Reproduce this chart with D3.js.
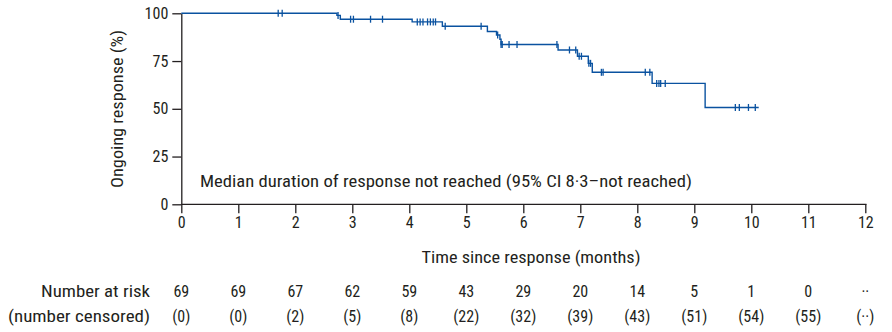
<!DOCTYPE html>
<html><head><meta charset="utf-8">
<script src="https://cdn.jsdelivr.net/npm/d3@7"></script>
<style>
body{margin:0;background:#fff;}
text{font-family:"Liberation Sans Narrow","Roboto Condensed","Open Sans Condensed","Liberation Sans",sans-serif;fill:#231f20;}
</style></head>
<body><svg id="chart" width="892" height="332"></svg>
<script>
// Kaplan-Meier step points: [time (months), ongoing response (%)]
const kmSteps = [
  [0, 100], [2.73, 98.9], [2.79, 96.9], [4.05, 95.5], [4.58, 93.2],
  [5.37, 90.5], [5.53, 88.6], [5.59, 86.4], [5.61, 83.7], [6.61, 80.8],
  [6.95, 77.5], [7.14, 73.8], [7.21, 69.1], [8.26, 63.3], [9.19, 50.7]
];
const kmEnd = 10.13;
const censorTimes = [1.70, 1.77, 2.75, 2.97, 3.02, 3.32, 3.53,
  4.14, 4.19, 4.24, 4.32, 4.37, 4.42, 4.46, 4.63, 5.26, 5.55, 5.61, 5.63,
  5.75, 5.89, 6.59, 6.81, 6.92, 6.98, 7.02, 7.15, 7.18, 7.37, 7.40,
  8.14, 8.22, 8.34, 8.38, 8.41, 8.49, 9.72, 9.79, 9.95, 10.07];
const xTicks = [0,1,2,3,4,5,6,7,8,9,10,11,12];
const yTicks = [0,25,50,75,100];
const atRisk = ["69","69","67","62","59","43","29","20","14","5","1","0","··"];
const censored = ["(0)","(0)","(2)","(5)","(8)","(22)","(32)","(39)","(43)","(51)","(54)","(55)","(··)"];
const annotation = "Median duration of response not reached (95% CI 8·3–not reached)";

const svg = d3.select("#chart");
const x = d3.scaleLinear().domain([0,12]).range([181.3,865.3]);
const y = d3.scaleLinear().domain([0,100]).range([204.3,13.3]);
const ink = "#231f20", blue = "#0a52a0";

function survAt(t){ let s=100; for(const [tt,v] of kmSteps){ if(tt<=t) s=v; } return s; }

// axes
const xAxis = svg.append("g").attr("transform",`translate(0,${y(0)})`)
  .call(d3.axisBottom(x).tickValues(xTicks).tickSize(9).tickSizeOuter(0).tickPadding(3));
xAxis.select(".domain").attr("d",`M${x(0)},0H866.5`);
const yAxis = svg.append("g").attr("transform",`translate(${x(0)},0)`)
  .call(d3.axisLeft(y).tickValues(yTicks).tickSize(9).tickSizeOuter(0).tickPadding(4));
[xAxis,yAxis].forEach(g=>{
  g.selectAll("path,line").attr("stroke",ink).attr("stroke-width",1.3);
  g.selectAll("text").attr("font-size",16).attr("fill",ink)
   .style("font-family",'"Liberation Sans Narrow","Roboto Condensed","Liberation Sans",sans-serif');
});

// KM curve
const pts = kmSteps.concat([[kmEnd, kmSteps[kmSteps.length-1][1]]]);
const line = d3.line().x(d=>x(d[0])).y(d=>y(d[1])).curve(d3.curveStepAfter);
svg.append("path").attr("d",line(pts)).attr("fill","none")
  .attr("stroke",blue).attr("stroke-width",1.4);
svg.append("g").selectAll("line").data(censorTimes).join("line")
  .attr("x1",d=>x(d)).attr("x2",d=>x(d))
  .attr("y1",d=>y(survAt(d))-3.5).attr("y2",d=>y(survAt(d))+3.5)
  .attr("stroke",blue).attr("stroke-width",1.3);

// titles
svg.append("text").attr("x",531).attr("y",263).attr("text-anchor","middle")
  .attr("font-size",16).attr("textLength",219).attr("lengthAdjust","spacingAndGlyphs")
  .text("Time since response (months)");
svg.append("text").attr("transform",`translate(123,${109}) rotate(-90)`).attr("text-anchor","middle")
  .attr("font-size",16).attr("textLength",158).attr("lengthAdjust","spacingAndGlyphs")
  .text("Ongoing response (%)");
svg.append("text").attr("x",200).attr("y",187)
  .attr("font-size",16).attr("textLength",492).attr("lengthAdjust","spacingAndGlyphs")
  .text(annotation);

// risk table
svg.append("text").attr("x",150).attr("y",297).attr("text-anchor","end")
  .attr("font-size",16).attr("textLength",109).attr("lengthAdjust","spacingAndGlyphs").text("Number at risk");
svg.append("text").attr("x",150).attr("y",322).attr("text-anchor","end")
  .attr("font-size",16).attr("textLength",142).attr("lengthAdjust","spacingAndGlyphs").text("(number censored)");
svg.append("g").selectAll("text").data(atRisk).join("text")
  .attr("x",(d,i)=>x(xTicks[i])).attr("y",297).attr("text-anchor","middle")
  .attr("font-size",16).text(d=>d);
svg.append("g").selectAll("text").data(censored).join("text")
  .attr("x",(d,i)=>x(xTicks[i])).attr("y",322).attr("text-anchor","middle")
  .attr("font-size",16).text(d=>d);
</script></body></html>
